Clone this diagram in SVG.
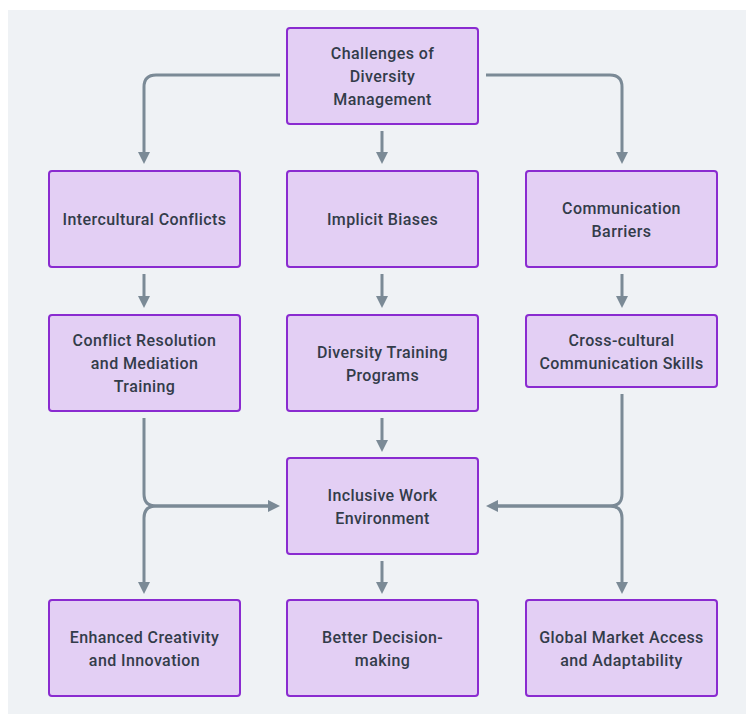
<svg xmlns="http://www.w3.org/2000/svg" width="746" height="714" viewBox="0 0 746 714">
<defs>
<marker id="ah" viewBox="0 0 10 10" refX="5" refY="5" markerWidth="4" markerHeight="4" orient="auto-start-reverse" markerUnits="strokeWidth">
<path d="M0,0 L10,5 L0,10 z" fill="#7b8a96"/>
</marker>
<style>
.bx{fill:#e3cff4;stroke:#8a2bd0;stroke-width:2;}
.tx{font-family:Roboto,"Open Sans","Liberation Sans",sans-serif;font-size:16px;letter-spacing:0.4px;fill:#333c4a;text-anchor:middle;font-weight:500;}
.cn{fill:none;stroke:#7b8a96;stroke-width:3;marker-end:url(#ah);}
</style>
</defs>
<rect x="0" y="0" width="746" height="714" fill="#ffffff"/>
<rect x="8" y="10" width="738" height="704" fill="#eff2f5"/>
<g id="connectors">
<path class="cn" d="M280,75 H156 Q144,75 144,87 V158"/>
<path class="cn" d="M382,131 V158"/>
<path class="cn" d="M486,75 H610 Q622,75 622,87 V158"/>
<path class="cn" d="M144,274 V302"/>
<path class="cn" d="M382,274 V302"/>
<path class="cn" d="M622,274 V302"/>
<path class="cn" d="M144,418 V494 Q144,506 156,506 H274"/>
<path class="cn" d="M382,418 V446"/>
<path class="cn" d="M622,394 V494 Q622,506 610,506 H492"/>
<path class="cn" d="M274,506 H156 Q144,506 144,518 V588"/>
<path class="cn" d="M382,561 V588"/>
<path class="cn" d="M492,506 H610 Q622,506 622,518 V588"/>
</g>
<g id="challenges"><rect class="bx" x="287" y="28" width="191" height="96" rx="3"/>
<text class="tx" x="382.5" y="59">Challenges of</text><text class="tx" x="382.5" y="82">Diversity</text><text class="tx" x="382.5" y="105">Management</text></g>
<g id="intercultural"><rect class="bx" x="49" y="171" width="191" height="96" rx="3"/>
<text class="tx" x="144.5" y="225">Intercultural Conflicts</text></g>
<g id="biases"><rect class="bx" x="287" y="171" width="191" height="96" rx="3"/>
<text class="tx" x="382.5" y="225">Implicit Biases</text></g>
<g id="communication"><rect class="bx" x="526" y="171" width="191" height="96" rx="3"/>
<text class="tx" x="621.5" y="214">Communication</text><text class="tx" x="621.5" y="237">Barriers</text></g>
<g id="conflict"><rect class="bx" x="49" y="315" width="191" height="96" rx="3"/>
<text class="tx" x="144.5" y="346">Conflict Resolution</text><text class="tx" x="144.5" y="369">and Mediation</text><text class="tx" x="144.5" y="392">Training</text></g>
<g id="training"><rect class="bx" x="287" y="315" width="191" height="96" rx="3"/>
<text class="tx" x="382.5" y="358">Diversity Training</text><text class="tx" x="382.5" y="381">Programs</text></g>
<g id="crosscultural"><rect class="bx" x="526" y="315" width="191" height="72" rx="3"/>
<text class="tx" x="621.5" y="346">Cross-cultural</text><text class="tx" x="621.5" y="369">Communication Skills</text></g>
<g id="inclusive"><rect class="bx" x="287" y="458" width="191" height="96" rx="3"/>
<text class="tx" x="382.5" y="501">Inclusive Work</text><text class="tx" x="382.5" y="524">Environment</text></g>
<g id="creativity"><rect class="bx" x="49" y="600" width="191" height="96" rx="3"/>
<text class="tx" x="144.5" y="643">Enhanced Creativity</text><text class="tx" x="144.5" y="666">and Innovation</text></g>
<g id="decision"><rect class="bx" x="287" y="600" width="191" height="96" rx="3"/>
<text class="tx" x="382.5" y="643">Better Decision-</text><text class="tx" x="382.5" y="666">making</text></g>
<g id="global"><rect class="bx" x="526" y="600" width="191" height="96" rx="3"/>
<text class="tx" x="621.5" y="643">Global Market Access</text><text class="tx" x="621.5" y="666">and Adaptability</text></g>
</svg>
